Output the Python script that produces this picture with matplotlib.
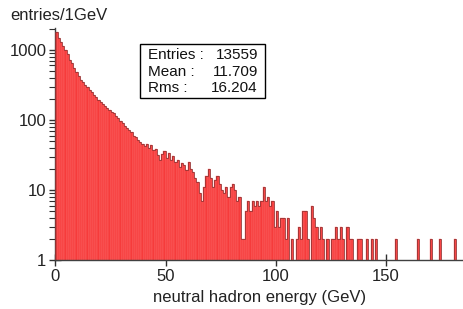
import numpy as np
import matplotlib
matplotlib.use("Agg")
import matplotlib.pyplot as plt

# 1 GeV bins, counts (empty bins = 0)
bin_edges = np.arange(0, 186)
counts = [
    1800, 1480, 1320, 1150, 1010, 870, 730, 660, 560, 480,
    430, 375, 350, 315, 300, 268, 248, 226, 214, 196,
    182, 168, 160, 148, 140, 128, 124, 113, 107, 97,
    90, 82, 76, 71, 67, 60, 58, 52, 49, 46,
    42, 46, 40, 44, 37, 38, 32, 27, 33, 36,
    29, 34, 27, 31, 25, 27, 21, 24, 23, 19,
    25, 20, 18, 15, 13, 9, 7, 11, 16, 20,
    15, 11, 14, 16, 12, 10, 9, 11, 8, 11,
    12, 10, 7, 8, 2, 2, 5, 7, 5, 7,
    6, 7, 6, 7, 11, 7, 8, 6, 7, 3,
    5, 3, 4, 4, 2, 4, 0, 2, 0, 2,
    3, 2, 5, 5, 2, 0, 6, 4, 3, 2,
    3, 2, 0, 2, 0, 2, 2, 3, 2, 3,
    2, 0, 3, 2, 2, 0, 0, 2, 2, 0,
    0, 2, 0, 2, 0, 2, 0, 0, 0, 0,
    0, 0, 0, 0, 2, 0, 0, 0, 0, 0,
    0, 0, 0, 0, 2, 0, 0, 0, 0, 0,
    2, 0, 0, 0, 2, 0, 0, 0, 0, 0,
    0, 2, 0, 0, 0,
]
x_ticks = [0, 50, 100, 150]
y_ticks = [1, 10, 100, 1000]
stat_labels = ["Entries :", "Mean :", "Rms :"]
stat_values = ["13559", "11.709", "16.204"]

plt.rcParams["font.family"] = ["Liberation Sans", "DejaVu Sans"]

fig = plt.figure(figsize=(4.64, 3.09), dpi=100)
ax = fig.add_axes([0.1196, 0.1586, 0.8784, 0.7508])

counts = np.asarray(counts, dtype=float)
ax.bar(bin_edges[:-1], counts, width=1, align="edge", color="#f63b3b",
       edgecolor="#ff7474", linewidth=0.3, zorder=2)
ax.stairs(np.where(counts > 0, counts, 0.5), bin_edges, color="#983434",
          linewidth=0.6, zorder=3)

ax.set_yscale("log")
ax.set_xlim(0, 185)
ax.set_ylim(1, 2060)
ax.set_xticks(x_ticks)
ax.set_yticks(y_ticks)
ax.set_yticklabels([str(v) for v in y_ticks])

for side in ["top", "right"]:
    ax.spines[side].set_visible(False)
for side in ["left", "bottom"]:
    ax.spines[side].set_color("#404040")
    ax.spines[side].set_linewidth(1.0)

ax.tick_params(axis="both", which="major", direction="inout", length=9,
               width=1.0, color="#303030", labelsize=12, labelcolor="#222222", pad=2)
ax.tick_params(axis="y", which="minor", direction="out", length=4,
               width=0.8, color="#303030")
ax.tick_params(axis="x", which="minor", bottom=False)

ax.set_xlabel("neutral hadron energy (GeV)", fontsize=12, color="#222222", labelpad=4)
fig.text(10 / 464, 1 - 15 / 309, "entries/1GeV", fontsize=12, color="#222222",
         ha="left", va="center")

# statistics box
box_l, box_r, box_t, box_b = 140 / 464, 265 / 464, 1 - 44 / 309, 1 - 98 / 309
fig.patches.append(plt.Rectangle((box_l, box_b), box_r - box_l, box_t - box_b,
                                 transform=fig.transFigure, fill=True,
                                 facecolor="white", edgecolor="black", linewidth=1.0,
                                 zorder=5))
row_y = [55, 72, 88]
for lab, val, yy in zip(stat_labels, stat_values, row_y):
    fig.text(148 / 464, 1 - yy / 309, lab, fontsize=11, ha="left", va="center",
             color="#111111", zorder=6)
    fig.text(258 / 464, 1 - yy / 309, val, fontsize=11, ha="right", va="center",
             color="#111111", zorder=6)

fig.savefig("out.png", dpi=100)
